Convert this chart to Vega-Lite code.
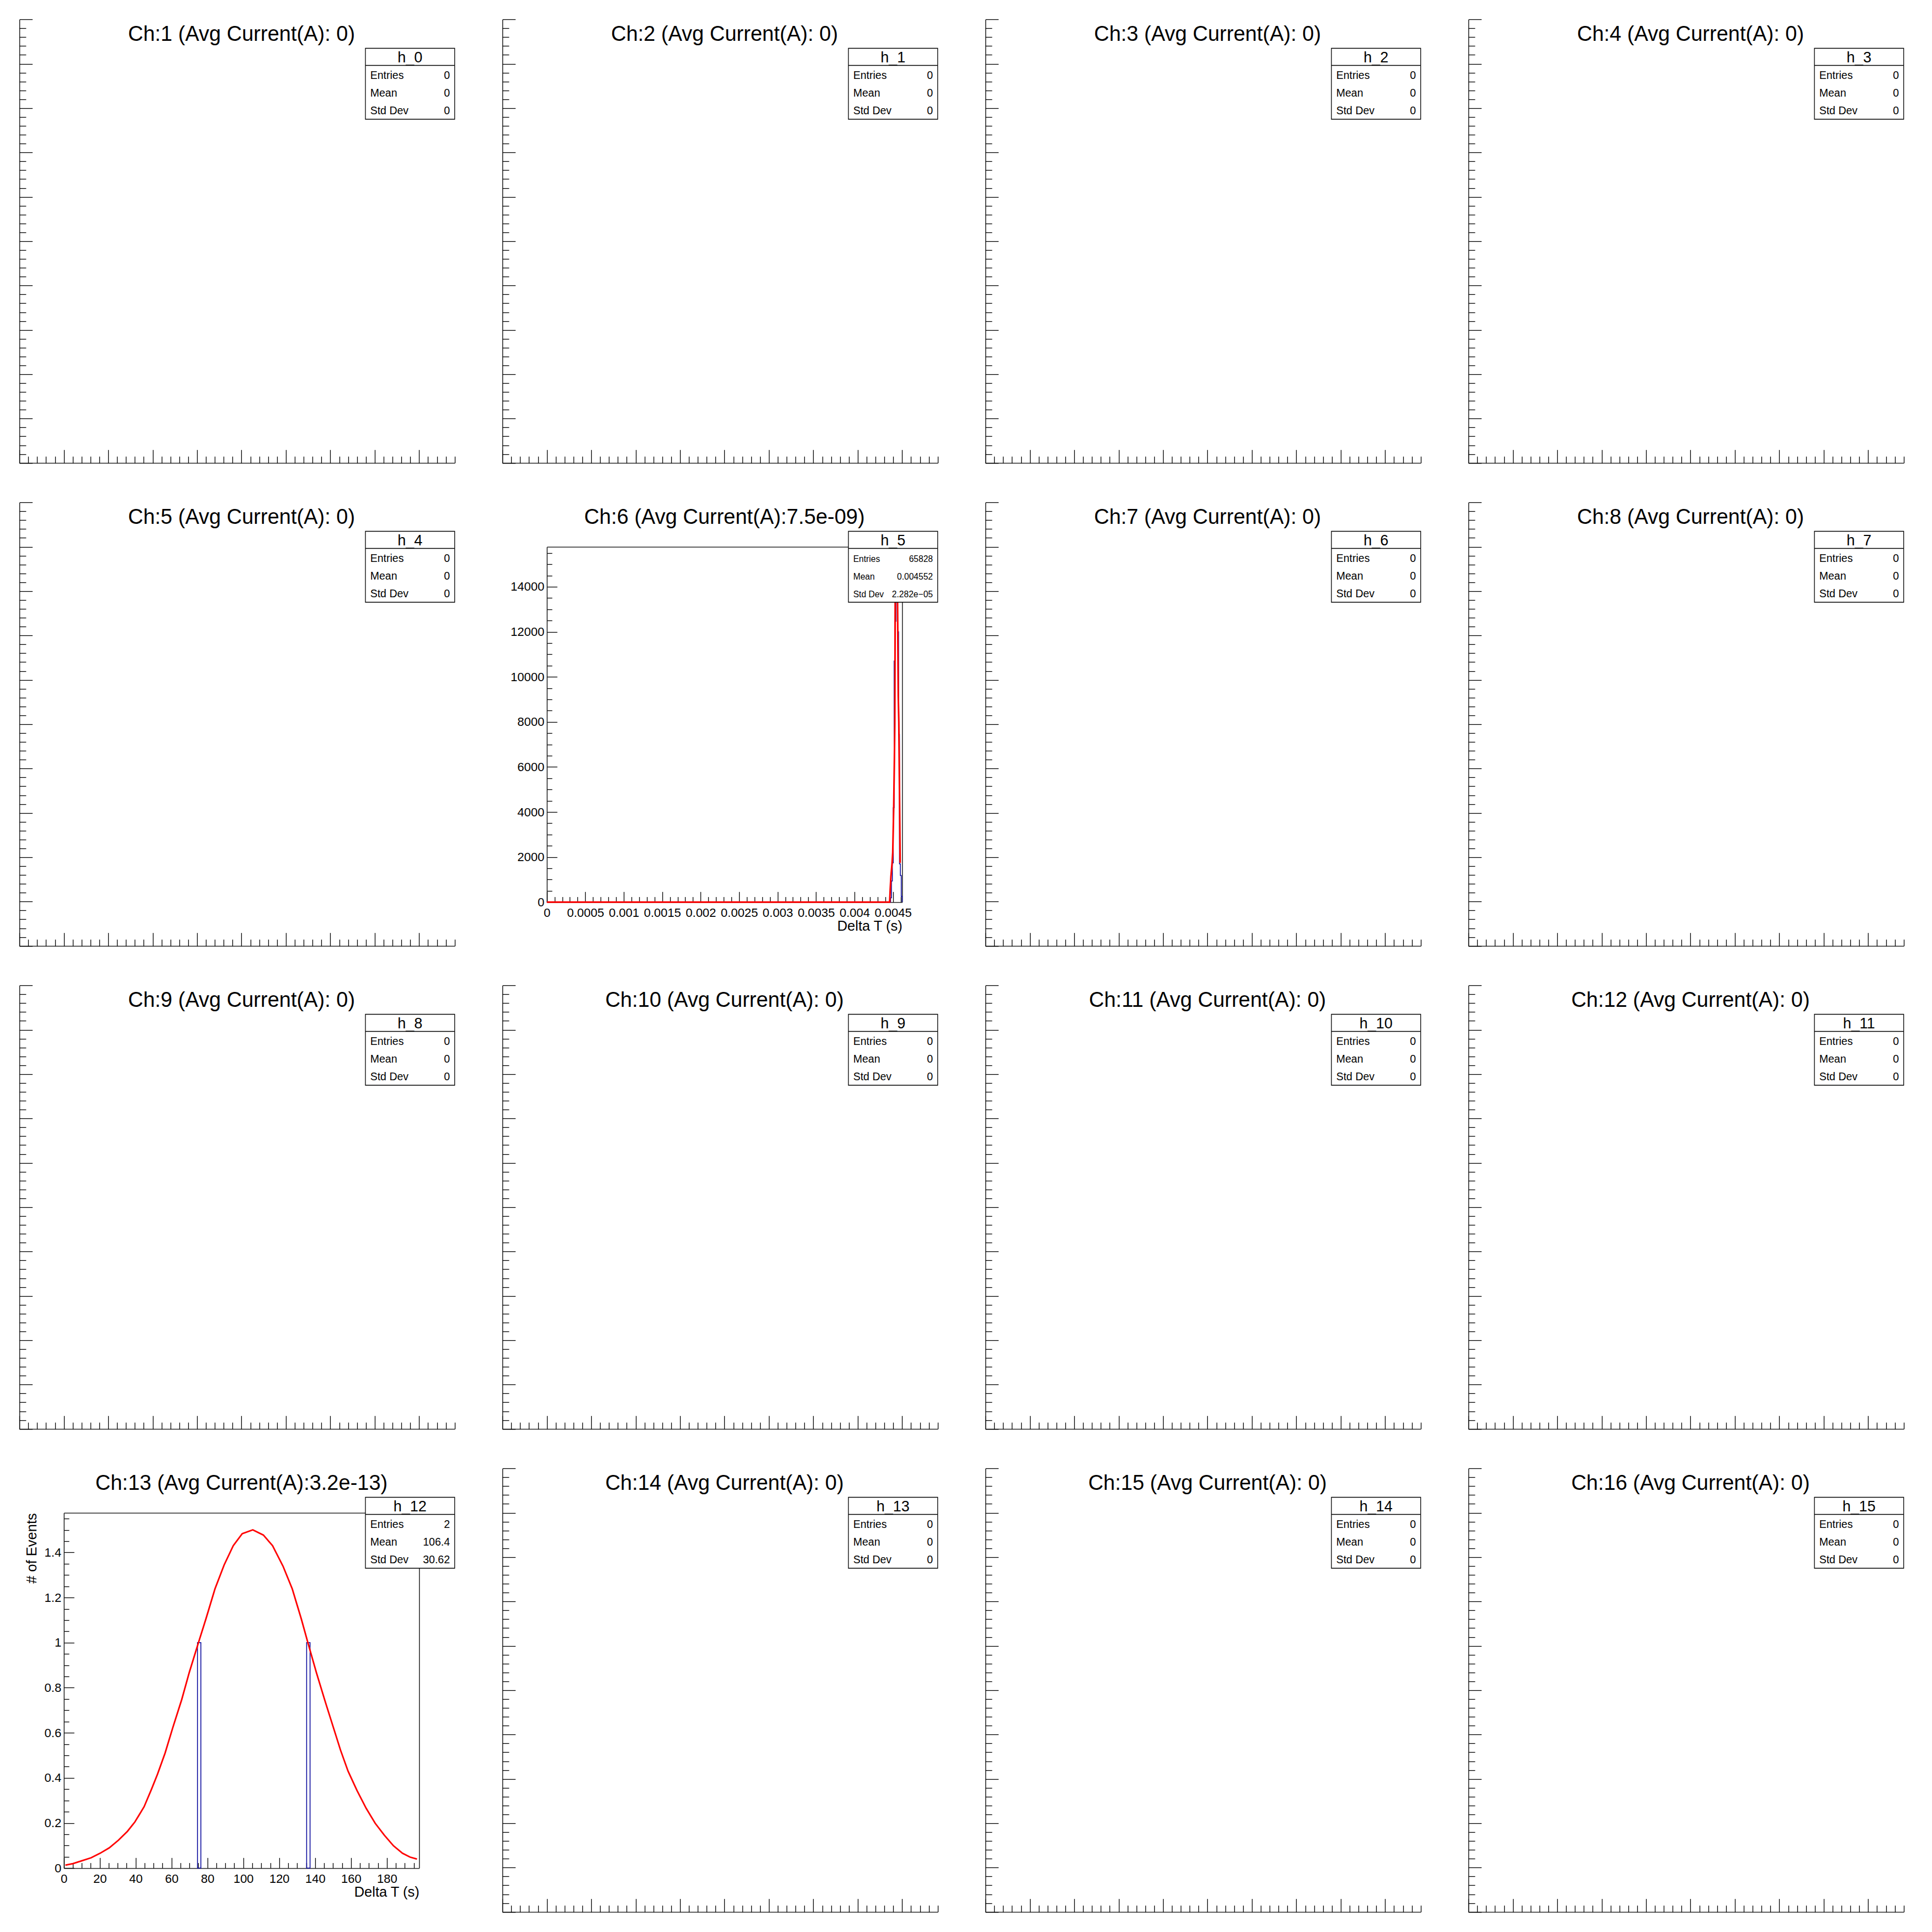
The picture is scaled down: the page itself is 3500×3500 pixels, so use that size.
{
"$schema":"https://vega.github.io/schema/vega-lite/v6.json",
"padding":0,"background":"white","columns":4,"spacing":0,"bounds":"flush",
"config":{"view":{"stroke":null},"font":"Liberation Sans","mark":{"color":"black"},
"axis":{"domainColor":"black","tickColor":"black","labelColor":"black","titleColor":"black","domainWidth":1.3,"tickWidth":1.3,"grid":false,"labelFlush":false,"labelOverlap":false,"labelBound":false,"labelFontWeight":"normal","titleFontWeight":"normal","labelFont":"Liberation Sans","titleFont":"Liberation Sans"}},
"datasets":{
"pads":[
{"panel":1,"title":"Ch:1 (Avg Current(A): 0)","hist":"h_0","entries":"0","mean":"0","std":"0"},
{"panel":2,"title":"Ch:2 (Avg Current(A): 0)","hist":"h_1","entries":"0","mean":"0","std":"0"},
{"panel":3,"title":"Ch:3 (Avg Current(A): 0)","hist":"h_2","entries":"0","mean":"0","std":"0"},
{"panel":4,"title":"Ch:4 (Avg Current(A): 0)","hist":"h_3","entries":"0","mean":"0","std":"0"},
{"panel":5,"title":"Ch:5 (Avg Current(A): 0)","hist":"h_4","entries":"0","mean":"0","std":"0"},
{"panel":6,"title":"Ch:6 (Avg Current(A):7.5e-09)","hist":"h_5","entries":"65828","mean":"0.004552","std":"2.282e\u221205"},
{"panel":7,"title":"Ch:7 (Avg Current(A): 0)","hist":"h_6","entries":"0","mean":"0","std":"0"},
{"panel":8,"title":"Ch:8 (Avg Current(A): 0)","hist":"h_7","entries":"0","mean":"0","std":"0"},
{"panel":9,"title":"Ch:9 (Avg Current(A): 0)","hist":"h_8","entries":"0","mean":"0","std":"0"},
{"panel":10,"title":"Ch:10 (Avg Current(A): 0)","hist":"h_9","entries":"0","mean":"0","std":"0"},
{"panel":11,"title":"Ch:11 (Avg Current(A): 0)","hist":"h_10","entries":"0","mean":"0","std":"0"},
{"panel":12,"title":"Ch:12 (Avg Current(A): 0)","hist":"h_11","entries":"0","mean":"0","std":"0"},
{"panel":13,"title":"Ch:13 (Avg Current(A):3.2e-13)","hist":"h_12","entries":"2","mean":"106.4","std":"30.62"},
{"panel":14,"title":"Ch:14 (Avg Current(A): 0)","hist":"h_13","entries":"0","mean":"0","std":"0"},
{"panel":15,"title":"Ch:15 (Avg Current(A): 0)","hist":"h_14","entries":"0","mean":"0","std":"0"},
{"panel":16,"title":"Ch:16 (Avg Current(A): 0)","hist":"h_15","entries":"0","mean":"0","std":"0"}
],
"hist":[
{"panel":6,"x":0,"count":0},
{"panel":6,"x":0.0044698,"count":190},
{"panel":6,"x":0.0044813,"count":940},
{"panel":6,"x":0.0044929,"count":1740},
{"panel":6,"x":0.0045044,"count":4190},
{"panel":6,"x":0.004516,"count":10700},
{"panel":6,"x":0.0045275,"count":12470},
{"panel":6,"x":0.0045391,"count":14900},
{"panel":6,"x":0.0045507,"count":15000},
{"panel":6,"x":0.0045622,"count":12000},
{"panel":6,"x":0.0045738,"count":7450},
{"panel":6,"x":0.0045853,"count":1700},
{"panel":6,"x":0.0045969,"count":1183},
{"panel":6,"x":0.0046084,"count":252},
{"panel":6,"x":0.00462,"count":0}
],
"bins":[
{"panel":13,"x0":74.45,"x1":76.35,"count":1},
{"panel":13,"x0":135.3,"x1":137.2,"count":1}
],
"fit":[
{"panel":6,"x":0,"y":0},{"panel":6,"x":0.0044578,"y":0},{"panel":6,"x":0.004465,"y":570},{"panel":6,"x":0.0044743,"y":1140},{"panel":6,"x":0.0044887,"y":1710},{"panel":6,"x":0.004498,"y":2200},{"panel":6,"x":0.0045102,"y":4170},{"panel":6,"x":0.0045195,"y":6370},{"panel":6,"x":0.0045246,"y":7920},{"panel":6,"x":0.0045296,"y":13290},{"panel":6,"x":0.0045353,"y":14800},{"panel":6,"x":0.0045425,"y":15600},{"panel":6,"x":0.0045497,"y":15600},{"panel":6,"x":0.0045554,"y":14800},{"panel":6,"x":0.0045604,"y":13290},{"panel":6,"x":0.0045698,"y":9130},{"panel":6,"x":0.004577,"y":8000},{"panel":6,"x":0.0045841,"y":5500},{"panel":6,"x":0.0045892,"y":3620},{"panel":6,"x":0.0045942,"y":1740},
{"panel":13,"x":0.84,"y":0.013},{"panel":13,"x":5.05,"y":0.02},{"panel":13,"x":10.1,"y":0.033},{"panel":13,"x":15.2,"y":0.046},{"panel":13,"x":20.2,"y":0.066},{"panel":13,"x":25.3,"y":0.09},{"panel":13,"x":30.3,"y":0.123},{"panel":13,"x":35.4,"y":0.163},{"panel":13,"x":39.6,"y":0.205},{"panel":13,"x":44.7,"y":0.272},{"panel":13,"x":48.9,"y":0.351},{"panel":13,"x":52.2,"y":0.417},{"panel":13,"x":56.4,"y":0.51},{"panel":13,"x":60.7,"y":0.623},{"panel":13,"x":65.7,"y":0.748},{"panel":13,"x":69.9,"y":0.868},{"panel":13,"x":75.0,"y":1.0},{"panel":13,"x":79.2,"y":1.106},{"panel":13,"x":84.2,"y":1.238},{"panel":13,"x":89.3,"y":1.344},{"panel":13,"x":94.4,"y":1.43},{"panel":13,"x":99.4,"y":1.483},{"panel":13,"x":105.3,"y":1.5},{"panel":13,"x":111.2,"y":1.477},{"panel":13,"x":116.3,"y":1.43},{"panel":13,"x":122.2,"y":1.338},{"panel":13,"x":127.3,"y":1.238},{"panel":13,"x":132.3,"y":1.106},{"panel":13,"x":136.0,"y":1.0},{"panel":13,"x":140.7,"y":0.868},{"panel":13,"x":145.8,"y":0.735},{"panel":13,"x":150.0,"y":0.629},{"panel":13,"x":154.2,"y":0.523},{"panel":13,"x":158.4,"y":0.43},{"panel":13,"x":163.4,"y":0.344},{"panel":13,"x":168.5,"y":0.265},{"panel":13,"x":173.5,"y":0.199},{"panel":13,"x":178.6,"y":0.146},{"panel":13,"x":183.7,"y":0.099},{"panel":13,"x":188.7,"y":0.066},{"panel":13,"x":192.9,"y":0.049},{"panel":13,"x":196.8,"y":0.04}
]
},
"concat":[
{"width":875,"height":875,"resolve":{"scale":{"x":"independent","y":"independent"}},"layer":[
{"data":{"name":"hist"},"transform":[{"filter":"datum.panel==1"}],"mark":{"type":"line","interpolate":"step-after","color":"#000099","strokeWidth":1.5},"encoding":{"x":{"field":"x","type":"quantitative","scale":{"domain":[0,0.98],"range":[35.2,823.7],"nice":false,"zero":false},"axis":{"orient":"bottom","offset":-36.3,"tickCount":49,"labels":false,"title":null,"tickSize":{"condition":{"test":"abs(datum.value*10-round(datum.value*10))<1e-6","value":-24},"value":-12}}},"y":{"field":"count","type":"quantitative","scale":{"domain":[0,1],"range":[838.7,35.2],"nice":false,"zero":false},"axis":{"orient":"left","offset":-35.2,"tickCount":50,"labels":false,"title":null,"tickSize":{"condition":{"test":"abs(datum.value*10-round(datum.value*10))<1e-6","value":-23.4},"value":-11.7}}}}},
{"data":{"name":"pads"},"transform":[{"filter":"datum.panel==1"}],"layer":[{"mark":{"type":"text","fontSize":38,"align":"center","baseline":"alphabetic"},"encoding":{"x":{"datum":0.5,"scale":{"domain":[0,1]},"axis":null},"y":{"datum":0.91486,"scale":{"domain":[0,1]},"axis":null},"text":{"field":"title"}}},{"mark":{"type":"rect","fill":"white","stroke":"black","strokeWidth":1.3},"encoding":{"x":{"datum":0.75657,"axis":null},"x2":{"datum":0.94137},"y":{"datum":0.75314,"axis":null},"y2":{"datum":0.9}}},{"mark":{"type":"rule","color":"black","strokeWidth":1.3},"encoding":{"x":{"datum":0.75657,"axis":null},"x2":{"datum":0.94137},"y":{"datum":0.86457,"axis":null}}},{"mark":{"type":"text","fontSize":27,"align":"center","baseline":"alphabetic"},"encoding":{"x":{"datum":0.84897,"axis":null},"y":{"datum":0.87086,"axis":null},"text":{"field":"hist"}}},{"mark":{"type":"text","fontSize":19.5,"align":"left","baseline":"alphabetic","lineHeight":32.3},"encoding":{"x":{"datum":0.76651,"axis":null},"y":{"datum":0.83691,"axis":null},"text":{"value":["Entries","Mean","Std Dev"]}}},{"mark":{"type":"text","fontSize":19.5,"align":"right","baseline":"alphabetic"},"encoding":{"x":{"datum":0.93143,"axis":null},"y":{"datum":0.83691,"axis":null},"text":{"field":"entries"}}},{"mark":{"type":"text","fontSize":19.5,"align":"right","baseline":"alphabetic"},"encoding":{"x":{"datum":0.93143,"axis":null},"y":{"datum":0.8,"axis":null},"text":{"field":"mean"}}},{"mark":{"type":"text","fontSize":19.5,"align":"right","baseline":"alphabetic"},"encoding":{"x":{"datum":0.93143,"axis":null},"y":{"datum":0.76309,"axis":null},"text":{"field":"std"}}}]}
]},
{"width":875,"height":875,"resolve":{"scale":{"x":"independent","y":"independent"}},"layer":[
{"data":{"name":"hist"},"transform":[{"filter":"datum.panel==2"}],"mark":{"type":"line","interpolate":"step-after","color":"#000099","strokeWidth":1.5},"encoding":{"x":{"field":"x","type":"quantitative","scale":{"domain":[0,0.98],"range":[35.2,823.7],"nice":false,"zero":false},"axis":{"orient":"bottom","offset":-36.3,"tickCount":49,"labels":false,"title":null,"tickSize":{"condition":{"test":"abs(datum.value*10-round(datum.value*10))<1e-6","value":-24},"value":-12}}},"y":{"field":"count","type":"quantitative","scale":{"domain":[0,1],"range":[838.7,35.2],"nice":false,"zero":false},"axis":{"orient":"left","offset":-35.2,"tickCount":50,"labels":false,"title":null,"tickSize":{"condition":{"test":"abs(datum.value*10-round(datum.value*10))<1e-6","value":-23.4},"value":-11.7}}}}},
{"data":{"name":"pads"},"transform":[{"filter":"datum.panel==2"}],"layer":[{"mark":{"type":"text","fontSize":38,"align":"center","baseline":"alphabetic"},"encoding":{"x":{"datum":0.5,"scale":{"domain":[0,1]},"axis":null},"y":{"datum":0.91486,"scale":{"domain":[0,1]},"axis":null},"text":{"field":"title"}}},{"mark":{"type":"rect","fill":"white","stroke":"black","strokeWidth":1.3},"encoding":{"x":{"datum":0.75657,"axis":null},"x2":{"datum":0.94137},"y":{"datum":0.75314,"axis":null},"y2":{"datum":0.9}}},{"mark":{"type":"rule","color":"black","strokeWidth":1.3},"encoding":{"x":{"datum":0.75657,"axis":null},"x2":{"datum":0.94137},"y":{"datum":0.86457,"axis":null}}},{"mark":{"type":"text","fontSize":27,"align":"center","baseline":"alphabetic"},"encoding":{"x":{"datum":0.84897,"axis":null},"y":{"datum":0.87086,"axis":null},"text":{"field":"hist"}}},{"mark":{"type":"text","fontSize":19.5,"align":"left","baseline":"alphabetic","lineHeight":32.3},"encoding":{"x":{"datum":0.76651,"axis":null},"y":{"datum":0.83691,"axis":null},"text":{"value":["Entries","Mean","Std Dev"]}}},{"mark":{"type":"text","fontSize":19.5,"align":"right","baseline":"alphabetic"},"encoding":{"x":{"datum":0.93143,"axis":null},"y":{"datum":0.83691,"axis":null},"text":{"field":"entries"}}},{"mark":{"type":"text","fontSize":19.5,"align":"right","baseline":"alphabetic"},"encoding":{"x":{"datum":0.93143,"axis":null},"y":{"datum":0.8,"axis":null},"text":{"field":"mean"}}},{"mark":{"type":"text","fontSize":19.5,"align":"right","baseline":"alphabetic"},"encoding":{"x":{"datum":0.93143,"axis":null},"y":{"datum":0.76309,"axis":null},"text":{"field":"std"}}}]}
]},
{"width":875,"height":875,"resolve":{"scale":{"x":"independent","y":"independent"}},"layer":[
{"data":{"name":"hist"},"transform":[{"filter":"datum.panel==3"}],"mark":{"type":"line","interpolate":"step-after","color":"#000099","strokeWidth":1.5},"encoding":{"x":{"field":"x","type":"quantitative","scale":{"domain":[0,0.98],"range":[35.2,823.7],"nice":false,"zero":false},"axis":{"orient":"bottom","offset":-36.3,"tickCount":49,"labels":false,"title":null,"tickSize":{"condition":{"test":"abs(datum.value*10-round(datum.value*10))<1e-6","value":-24},"value":-12}}},"y":{"field":"count","type":"quantitative","scale":{"domain":[0,1],"range":[838.7,35.2],"nice":false,"zero":false},"axis":{"orient":"left","offset":-35.2,"tickCount":50,"labels":false,"title":null,"tickSize":{"condition":{"test":"abs(datum.value*10-round(datum.value*10))<1e-6","value":-23.4},"value":-11.7}}}}},
{"data":{"name":"pads"},"transform":[{"filter":"datum.panel==3"}],"layer":[{"mark":{"type":"text","fontSize":38,"align":"center","baseline":"alphabetic"},"encoding":{"x":{"datum":0.5,"scale":{"domain":[0,1]},"axis":null},"y":{"datum":0.91486,"scale":{"domain":[0,1]},"axis":null},"text":{"field":"title"}}},{"mark":{"type":"rect","fill":"white","stroke":"black","strokeWidth":1.3},"encoding":{"x":{"datum":0.75657,"axis":null},"x2":{"datum":0.94137},"y":{"datum":0.75314,"axis":null},"y2":{"datum":0.9}}},{"mark":{"type":"rule","color":"black","strokeWidth":1.3},"encoding":{"x":{"datum":0.75657,"axis":null},"x2":{"datum":0.94137},"y":{"datum":0.86457,"axis":null}}},{"mark":{"type":"text","fontSize":27,"align":"center","baseline":"alphabetic"},"encoding":{"x":{"datum":0.84897,"axis":null},"y":{"datum":0.87086,"axis":null},"text":{"field":"hist"}}},{"mark":{"type":"text","fontSize":19.5,"align":"left","baseline":"alphabetic","lineHeight":32.3},"encoding":{"x":{"datum":0.76651,"axis":null},"y":{"datum":0.83691,"axis":null},"text":{"value":["Entries","Mean","Std Dev"]}}},{"mark":{"type":"text","fontSize":19.5,"align":"right","baseline":"alphabetic"},"encoding":{"x":{"datum":0.93143,"axis":null},"y":{"datum":0.83691,"axis":null},"text":{"field":"entries"}}},{"mark":{"type":"text","fontSize":19.5,"align":"right","baseline":"alphabetic"},"encoding":{"x":{"datum":0.93143,"axis":null},"y":{"datum":0.8,"axis":null},"text":{"field":"mean"}}},{"mark":{"type":"text","fontSize":19.5,"align":"right","baseline":"alphabetic"},"encoding":{"x":{"datum":0.93143,"axis":null},"y":{"datum":0.76309,"axis":null},"text":{"field":"std"}}}]}
]},
{"width":875,"height":875,"resolve":{"scale":{"x":"independent","y":"independent"}},"layer":[
{"data":{"name":"hist"},"transform":[{"filter":"datum.panel==4"}],"mark":{"type":"line","interpolate":"step-after","color":"#000099","strokeWidth":1.5},"encoding":{"x":{"field":"x","type":"quantitative","scale":{"domain":[0,0.98],"range":[35.2,823.7],"nice":false,"zero":false},"axis":{"orient":"bottom","offset":-36.3,"tickCount":49,"labels":false,"title":null,"tickSize":{"condition":{"test":"abs(datum.value*10-round(datum.value*10))<1e-6","value":-24},"value":-12}}},"y":{"field":"count","type":"quantitative","scale":{"domain":[0,1],"range":[838.7,35.2],"nice":false,"zero":false},"axis":{"orient":"left","offset":-35.2,"tickCount":50,"labels":false,"title":null,"tickSize":{"condition":{"test":"abs(datum.value*10-round(datum.value*10))<1e-6","value":-23.4},"value":-11.7}}}}},
{"data":{"name":"pads"},"transform":[{"filter":"datum.panel==4"}],"layer":[{"mark":{"type":"text","fontSize":38,"align":"center","baseline":"alphabetic"},"encoding":{"x":{"datum":0.5,"scale":{"domain":[0,1]},"axis":null},"y":{"datum":0.91486,"scale":{"domain":[0,1]},"axis":null},"text":{"field":"title"}}},{"mark":{"type":"rect","fill":"white","stroke":"black","strokeWidth":1.3},"encoding":{"x":{"datum":0.75657,"axis":null},"x2":{"datum":0.94137},"y":{"datum":0.75314,"axis":null},"y2":{"datum":0.9}}},{"mark":{"type":"rule","color":"black","strokeWidth":1.3},"encoding":{"x":{"datum":0.75657,"axis":null},"x2":{"datum":0.94137},"y":{"datum":0.86457,"axis":null}}},{"mark":{"type":"text","fontSize":27,"align":"center","baseline":"alphabetic"},"encoding":{"x":{"datum":0.84897,"axis":null},"y":{"datum":0.87086,"axis":null},"text":{"field":"hist"}}},{"mark":{"type":"text","fontSize":19.5,"align":"left","baseline":"alphabetic","lineHeight":32.3},"encoding":{"x":{"datum":0.76651,"axis":null},"y":{"datum":0.83691,"axis":null},"text":{"value":["Entries","Mean","Std Dev"]}}},{"mark":{"type":"text","fontSize":19.5,"align":"right","baseline":"alphabetic"},"encoding":{"x":{"datum":0.93143,"axis":null},"y":{"datum":0.83691,"axis":null},"text":{"field":"entries"}}},{"mark":{"type":"text","fontSize":19.5,"align":"right","baseline":"alphabetic"},"encoding":{"x":{"datum":0.93143,"axis":null},"y":{"datum":0.8,"axis":null},"text":{"field":"mean"}}},{"mark":{"type":"text","fontSize":19.5,"align":"right","baseline":"alphabetic"},"encoding":{"x":{"datum":0.93143,"axis":null},"y":{"datum":0.76309,"axis":null},"text":{"field":"std"}}}]}
]},
{"width":875,"height":875,"resolve":{"scale":{"x":"independent","y":"independent"}},"layer":[
{"data":{"name":"hist"},"transform":[{"filter":"datum.panel==5"}],"mark":{"type":"line","interpolate":"step-after","color":"#000099","strokeWidth":1.5},"encoding":{"x":{"field":"x","type":"quantitative","scale":{"domain":[0,0.98],"range":[35.2,823.7],"nice":false,"zero":false},"axis":{"orient":"bottom","offset":-36.3,"tickCount":49,"labels":false,"title":null,"tickSize":{"condition":{"test":"abs(datum.value*10-round(datum.value*10))<1e-6","value":-24},"value":-12}}},"y":{"field":"count","type":"quantitative","scale":{"domain":[0,1],"range":[838.7,35.2],"nice":false,"zero":false},"axis":{"orient":"left","offset":-35.2,"tickCount":50,"labels":false,"title":null,"tickSize":{"condition":{"test":"abs(datum.value*10-round(datum.value*10))<1e-6","value":-23.4},"value":-11.7}}}}},
{"data":{"name":"pads"},"transform":[{"filter":"datum.panel==5"}],"layer":[{"mark":{"type":"text","fontSize":38,"align":"center","baseline":"alphabetic"},"encoding":{"x":{"datum":0.5,"scale":{"domain":[0,1]},"axis":null},"y":{"datum":0.91486,"scale":{"domain":[0,1]},"axis":null},"text":{"field":"title"}}},{"mark":{"type":"rect","fill":"white","stroke":"black","strokeWidth":1.3},"encoding":{"x":{"datum":0.75657,"axis":null},"x2":{"datum":0.94137},"y":{"datum":0.75314,"axis":null},"y2":{"datum":0.9}}},{"mark":{"type":"rule","color":"black","strokeWidth":1.3},"encoding":{"x":{"datum":0.75657,"axis":null},"x2":{"datum":0.94137},"y":{"datum":0.86457,"axis":null}}},{"mark":{"type":"text","fontSize":27,"align":"center","baseline":"alphabetic"},"encoding":{"x":{"datum":0.84897,"axis":null},"y":{"datum":0.87086,"axis":null},"text":{"field":"hist"}}},{"mark":{"type":"text","fontSize":19.5,"align":"left","baseline":"alphabetic","lineHeight":32.3},"encoding":{"x":{"datum":0.76651,"axis":null},"y":{"datum":0.83691,"axis":null},"text":{"value":["Entries","Mean","Std Dev"]}}},{"mark":{"type":"text","fontSize":19.5,"align":"right","baseline":"alphabetic"},"encoding":{"x":{"datum":0.93143,"axis":null},"y":{"datum":0.83691,"axis":null},"text":{"field":"entries"}}},{"mark":{"type":"text","fontSize":19.5,"align":"right","baseline":"alphabetic"},"encoding":{"x":{"datum":0.93143,"axis":null},"y":{"datum":0.8,"axis":null},"text":{"field":"mean"}}},{"mark":{"type":"text","fontSize":19.5,"align":"right","baseline":"alphabetic"},"encoding":{"x":{"datum":0.93143,"axis":null},"y":{"datum":0.76309,"axis":null},"text":{"field":"std"}}}]}
]},
{"width":875,"height":875,"resolve":{"scale":{"x":"independent","y":"independent"}},"layer":[
{"resolve":{"axis":{"x":"independent","y":"independent"}},"layer":[
{"data":{"name":"hist"},"transform":[{"filter":"datum.panel==6"}],"mark":{"type":"line","interpolate":"step-after","color":"#000099","strokeWidth":1.5},"encoding":{"x":{"field":"x","type":"quantitative","scale":{"domain":[0,0.00462],"range":[115.7,759.3],"nice":false,"zero":false},"axis":{"orient":"bottom","offset":-115.7,"tickCount":46,"tickSize":{"condition":{"test":"abs(datum.value*2000-round(datum.value*2000))<1e-6","value":-19},"value":-9.7},"labelExpr":"abs(datum.value*2000-round(datum.value*2000))<1e-6 ? ''+round(datum.value*20000)/20000 : ''","labelFontSize":22,"labelBaseline":"top","labelAlign":"center","labelPadding":28,"title":"Delta T (s)","titleFontSize":25.5,"titleAlign":"right","titleBaseline":"alphabetic","titleX":759.3,"titleY":51}},"y":{"field":"count","type":"quantitative","scale":{"domain":[0,15770],"range":[759.3,115.7],"nice":false,"zero":false},"axis":{"orient":"left","offset":-115.7,"tickCount":31,"tickSize":{"condition":{"test":"datum.value%2000==0","value":-18.5},"value":-9.3},"labelExpr":"datum.value%2000==0 ? ''+datum.value : ''","labelFontSize":22,"labelAlign":"right","labelBaseline":"middle","labelPadding":23.5,"title":null}}}},
{"data":{"name":"fit"},"transform":[{"filter":"datum.panel==6"}],"mark":{"type":"line","color":"#ff0000","strokeWidth":3},"encoding":{"x":{"field":"x","type":"quantitative","axis":{"orient":"top","offset":-115.7,"ticks":false,"labels":false,"title":null}},"y":{"field":"y","type":"quantitative","axis":{"orient":"right","offset":-115.7,"ticks":false,"labels":false,"title":null}}}}
]},
{"data":{"name":"pads"},"transform":[{"filter":"datum.panel==6"}],"layer":[{"mark":{"type":"text","fontSize":38,"align":"center","baseline":"alphabetic"},"encoding":{"x":{"datum":0.5,"scale":{"domain":[0,1]},"axis":null},"y":{"datum":0.91486,"scale":{"domain":[0,1]},"axis":null},"text":{"field":"title"}}},{"mark":{"type":"rect","fill":"white","stroke":"black","strokeWidth":1.3},"encoding":{"x":{"datum":0.75657,"axis":null},"x2":{"datum":0.94137},"y":{"datum":0.75314,"axis":null},"y2":{"datum":0.9}}},{"mark":{"type":"rule","color":"black","strokeWidth":1.3},"encoding":{"x":{"datum":0.75657,"axis":null},"x2":{"datum":0.94137},"y":{"datum":0.86457,"axis":null}}},{"mark":{"type":"text","fontSize":27,"align":"center","baseline":"alphabetic"},"encoding":{"x":{"datum":0.84897,"axis":null},"y":{"datum":0.87086,"axis":null},"text":{"field":"hist"}}},{"mark":{"type":"text","fontSize":15.6,"align":"left","baseline":"alphabetic","lineHeight":32.3},"encoding":{"x":{"datum":0.76651,"axis":null},"y":{"datum":0.83691,"axis":null},"text":{"value":["Entries","Mean","Std Dev"]}}},{"mark":{"type":"text","fontSize":15.6,"align":"right","baseline":"alphabetic"},"encoding":{"x":{"datum":0.93143,"axis":null},"y":{"datum":0.83691,"axis":null},"text":{"field":"entries"}}},{"mark":{"type":"text","fontSize":15.6,"align":"right","baseline":"alphabetic"},"encoding":{"x":{"datum":0.93143,"axis":null},"y":{"datum":0.8,"axis":null},"text":{"field":"mean"}}},{"mark":{"type":"text","fontSize":15.6,"align":"right","baseline":"alphabetic"},"encoding":{"x":{"datum":0.93143,"axis":null},"y":{"datum":0.76309,"axis":null},"text":{"field":"std"}}}]}
]},
{"width":875,"height":875,"resolve":{"scale":{"x":"independent","y":"independent"}},"layer":[
{"data":{"name":"hist"},"transform":[{"filter":"datum.panel==7"}],"mark":{"type":"line","interpolate":"step-after","color":"#000099","strokeWidth":1.5},"encoding":{"x":{"field":"x","type":"quantitative","scale":{"domain":[0,0.98],"range":[35.2,823.7],"nice":false,"zero":false},"axis":{"orient":"bottom","offset":-36.3,"tickCount":49,"labels":false,"title":null,"tickSize":{"condition":{"test":"abs(datum.value*10-round(datum.value*10))<1e-6","value":-24},"value":-12}}},"y":{"field":"count","type":"quantitative","scale":{"domain":[0,1],"range":[838.7,35.2],"nice":false,"zero":false},"axis":{"orient":"left","offset":-35.2,"tickCount":50,"labels":false,"title":null,"tickSize":{"condition":{"test":"abs(datum.value*10-round(datum.value*10))<1e-6","value":-23.4},"value":-11.7}}}}},
{"data":{"name":"pads"},"transform":[{"filter":"datum.panel==7"}],"layer":[{"mark":{"type":"text","fontSize":38,"align":"center","baseline":"alphabetic"},"encoding":{"x":{"datum":0.5,"scale":{"domain":[0,1]},"axis":null},"y":{"datum":0.91486,"scale":{"domain":[0,1]},"axis":null},"text":{"field":"title"}}},{"mark":{"type":"rect","fill":"white","stroke":"black","strokeWidth":1.3},"encoding":{"x":{"datum":0.75657,"axis":null},"x2":{"datum":0.94137},"y":{"datum":0.75314,"axis":null},"y2":{"datum":0.9}}},{"mark":{"type":"rule","color":"black","strokeWidth":1.3},"encoding":{"x":{"datum":0.75657,"axis":null},"x2":{"datum":0.94137},"y":{"datum":0.86457,"axis":null}}},{"mark":{"type":"text","fontSize":27,"align":"center","baseline":"alphabetic"},"encoding":{"x":{"datum":0.84897,"axis":null},"y":{"datum":0.87086,"axis":null},"text":{"field":"hist"}}},{"mark":{"type":"text","fontSize":19.5,"align":"left","baseline":"alphabetic","lineHeight":32.3},"encoding":{"x":{"datum":0.76651,"axis":null},"y":{"datum":0.83691,"axis":null},"text":{"value":["Entries","Mean","Std Dev"]}}},{"mark":{"type":"text","fontSize":19.5,"align":"right","baseline":"alphabetic"},"encoding":{"x":{"datum":0.93143,"axis":null},"y":{"datum":0.83691,"axis":null},"text":{"field":"entries"}}},{"mark":{"type":"text","fontSize":19.5,"align":"right","baseline":"alphabetic"},"encoding":{"x":{"datum":0.93143,"axis":null},"y":{"datum":0.8,"axis":null},"text":{"field":"mean"}}},{"mark":{"type":"text","fontSize":19.5,"align":"right","baseline":"alphabetic"},"encoding":{"x":{"datum":0.93143,"axis":null},"y":{"datum":0.76309,"axis":null},"text":{"field":"std"}}}]}
]},
{"width":875,"height":875,"resolve":{"scale":{"x":"independent","y":"independent"}},"layer":[
{"data":{"name":"hist"},"transform":[{"filter":"datum.panel==8"}],"mark":{"type":"line","interpolate":"step-after","color":"#000099","strokeWidth":1.5},"encoding":{"x":{"field":"x","type":"quantitative","scale":{"domain":[0,0.98],"range":[35.2,823.7],"nice":false,"zero":false},"axis":{"orient":"bottom","offset":-36.3,"tickCount":49,"labels":false,"title":null,"tickSize":{"condition":{"test":"abs(datum.value*10-round(datum.value*10))<1e-6","value":-24},"value":-12}}},"y":{"field":"count","type":"quantitative","scale":{"domain":[0,1],"range":[838.7,35.2],"nice":false,"zero":false},"axis":{"orient":"left","offset":-35.2,"tickCount":50,"labels":false,"title":null,"tickSize":{"condition":{"test":"abs(datum.value*10-round(datum.value*10))<1e-6","value":-23.4},"value":-11.7}}}}},
{"data":{"name":"pads"},"transform":[{"filter":"datum.panel==8"}],"layer":[{"mark":{"type":"text","fontSize":38,"align":"center","baseline":"alphabetic"},"encoding":{"x":{"datum":0.5,"scale":{"domain":[0,1]},"axis":null},"y":{"datum":0.91486,"scale":{"domain":[0,1]},"axis":null},"text":{"field":"title"}}},{"mark":{"type":"rect","fill":"white","stroke":"black","strokeWidth":1.3},"encoding":{"x":{"datum":0.75657,"axis":null},"x2":{"datum":0.94137},"y":{"datum":0.75314,"axis":null},"y2":{"datum":0.9}}},{"mark":{"type":"rule","color":"black","strokeWidth":1.3},"encoding":{"x":{"datum":0.75657,"axis":null},"x2":{"datum":0.94137},"y":{"datum":0.86457,"axis":null}}},{"mark":{"type":"text","fontSize":27,"align":"center","baseline":"alphabetic"},"encoding":{"x":{"datum":0.84897,"axis":null},"y":{"datum":0.87086,"axis":null},"text":{"field":"hist"}}},{"mark":{"type":"text","fontSize":19.5,"align":"left","baseline":"alphabetic","lineHeight":32.3},"encoding":{"x":{"datum":0.76651,"axis":null},"y":{"datum":0.83691,"axis":null},"text":{"value":["Entries","Mean","Std Dev"]}}},{"mark":{"type":"text","fontSize":19.5,"align":"right","baseline":"alphabetic"},"encoding":{"x":{"datum":0.93143,"axis":null},"y":{"datum":0.83691,"axis":null},"text":{"field":"entries"}}},{"mark":{"type":"text","fontSize":19.5,"align":"right","baseline":"alphabetic"},"encoding":{"x":{"datum":0.93143,"axis":null},"y":{"datum":0.8,"axis":null},"text":{"field":"mean"}}},{"mark":{"type":"text","fontSize":19.5,"align":"right","baseline":"alphabetic"},"encoding":{"x":{"datum":0.93143,"axis":null},"y":{"datum":0.76309,"axis":null},"text":{"field":"std"}}}]}
]},
{"width":875,"height":875,"resolve":{"scale":{"x":"independent","y":"independent"}},"layer":[
{"data":{"name":"hist"},"transform":[{"filter":"datum.panel==9"}],"mark":{"type":"line","interpolate":"step-after","color":"#000099","strokeWidth":1.5},"encoding":{"x":{"field":"x","type":"quantitative","scale":{"domain":[0,0.98],"range":[35.2,823.7],"nice":false,"zero":false},"axis":{"orient":"bottom","offset":-36.3,"tickCount":49,"labels":false,"title":null,"tickSize":{"condition":{"test":"abs(datum.value*10-round(datum.value*10))<1e-6","value":-24},"value":-12}}},"y":{"field":"count","type":"quantitative","scale":{"domain":[0,1],"range":[838.7,35.2],"nice":false,"zero":false},"axis":{"orient":"left","offset":-35.2,"tickCount":50,"labels":false,"title":null,"tickSize":{"condition":{"test":"abs(datum.value*10-round(datum.value*10))<1e-6","value":-23.4},"value":-11.7}}}}},
{"data":{"name":"pads"},"transform":[{"filter":"datum.panel==9"}],"layer":[{"mark":{"type":"text","fontSize":38,"align":"center","baseline":"alphabetic"},"encoding":{"x":{"datum":0.5,"scale":{"domain":[0,1]},"axis":null},"y":{"datum":0.91486,"scale":{"domain":[0,1]},"axis":null},"text":{"field":"title"}}},{"mark":{"type":"rect","fill":"white","stroke":"black","strokeWidth":1.3},"encoding":{"x":{"datum":0.75657,"axis":null},"x2":{"datum":0.94137},"y":{"datum":0.75314,"axis":null},"y2":{"datum":0.9}}},{"mark":{"type":"rule","color":"black","strokeWidth":1.3},"encoding":{"x":{"datum":0.75657,"axis":null},"x2":{"datum":0.94137},"y":{"datum":0.86457,"axis":null}}},{"mark":{"type":"text","fontSize":27,"align":"center","baseline":"alphabetic"},"encoding":{"x":{"datum":0.84897,"axis":null},"y":{"datum":0.87086,"axis":null},"text":{"field":"hist"}}},{"mark":{"type":"text","fontSize":19.5,"align":"left","baseline":"alphabetic","lineHeight":32.3},"encoding":{"x":{"datum":0.76651,"axis":null},"y":{"datum":0.83691,"axis":null},"text":{"value":["Entries","Mean","Std Dev"]}}},{"mark":{"type":"text","fontSize":19.5,"align":"right","baseline":"alphabetic"},"encoding":{"x":{"datum":0.93143,"axis":null},"y":{"datum":0.83691,"axis":null},"text":{"field":"entries"}}},{"mark":{"type":"text","fontSize":19.5,"align":"right","baseline":"alphabetic"},"encoding":{"x":{"datum":0.93143,"axis":null},"y":{"datum":0.8,"axis":null},"text":{"field":"mean"}}},{"mark":{"type":"text","fontSize":19.5,"align":"right","baseline":"alphabetic"},"encoding":{"x":{"datum":0.93143,"axis":null},"y":{"datum":0.76309,"axis":null},"text":{"field":"std"}}}]}
]},
{"width":875,"height":875,"resolve":{"scale":{"x":"independent","y":"independent"}},"layer":[
{"data":{"name":"hist"},"transform":[{"filter":"datum.panel==10"}],"mark":{"type":"line","interpolate":"step-after","color":"#000099","strokeWidth":1.5},"encoding":{"x":{"field":"x","type":"quantitative","scale":{"domain":[0,0.98],"range":[35.2,823.7],"nice":false,"zero":false},"axis":{"orient":"bottom","offset":-36.3,"tickCount":49,"labels":false,"title":null,"tickSize":{"condition":{"test":"abs(datum.value*10-round(datum.value*10))<1e-6","value":-24},"value":-12}}},"y":{"field":"count","type":"quantitative","scale":{"domain":[0,1],"range":[838.7,35.2],"nice":false,"zero":false},"axis":{"orient":"left","offset":-35.2,"tickCount":50,"labels":false,"title":null,"tickSize":{"condition":{"test":"abs(datum.value*10-round(datum.value*10))<1e-6","value":-23.4},"value":-11.7}}}}},
{"data":{"name":"pads"},"transform":[{"filter":"datum.panel==10"}],"layer":[{"mark":{"type":"text","fontSize":38,"align":"center","baseline":"alphabetic"},"encoding":{"x":{"datum":0.5,"scale":{"domain":[0,1]},"axis":null},"y":{"datum":0.91486,"scale":{"domain":[0,1]},"axis":null},"text":{"field":"title"}}},{"mark":{"type":"rect","fill":"white","stroke":"black","strokeWidth":1.3},"encoding":{"x":{"datum":0.75657,"axis":null},"x2":{"datum":0.94137},"y":{"datum":0.75314,"axis":null},"y2":{"datum":0.9}}},{"mark":{"type":"rule","color":"black","strokeWidth":1.3},"encoding":{"x":{"datum":0.75657,"axis":null},"x2":{"datum":0.94137},"y":{"datum":0.86457,"axis":null}}},{"mark":{"type":"text","fontSize":27,"align":"center","baseline":"alphabetic"},"encoding":{"x":{"datum":0.84897,"axis":null},"y":{"datum":0.87086,"axis":null},"text":{"field":"hist"}}},{"mark":{"type":"text","fontSize":19.5,"align":"left","baseline":"alphabetic","lineHeight":32.3},"encoding":{"x":{"datum":0.76651,"axis":null},"y":{"datum":0.83691,"axis":null},"text":{"value":["Entries","Mean","Std Dev"]}}},{"mark":{"type":"text","fontSize":19.5,"align":"right","baseline":"alphabetic"},"encoding":{"x":{"datum":0.93143,"axis":null},"y":{"datum":0.83691,"axis":null},"text":{"field":"entries"}}},{"mark":{"type":"text","fontSize":19.5,"align":"right","baseline":"alphabetic"},"encoding":{"x":{"datum":0.93143,"axis":null},"y":{"datum":0.8,"axis":null},"text":{"field":"mean"}}},{"mark":{"type":"text","fontSize":19.5,"align":"right","baseline":"alphabetic"},"encoding":{"x":{"datum":0.93143,"axis":null},"y":{"datum":0.76309,"axis":null},"text":{"field":"std"}}}]}
]},
{"width":875,"height":875,"resolve":{"scale":{"x":"independent","y":"independent"}},"layer":[
{"data":{"name":"hist"},"transform":[{"filter":"datum.panel==11"}],"mark":{"type":"line","interpolate":"step-after","color":"#000099","strokeWidth":1.5},"encoding":{"x":{"field":"x","type":"quantitative","scale":{"domain":[0,0.98],"range":[35.2,823.7],"nice":false,"zero":false},"axis":{"orient":"bottom","offset":-36.3,"tickCount":49,"labels":false,"title":null,"tickSize":{"condition":{"test":"abs(datum.value*10-round(datum.value*10))<1e-6","value":-24},"value":-12}}},"y":{"field":"count","type":"quantitative","scale":{"domain":[0,1],"range":[838.7,35.2],"nice":false,"zero":false},"axis":{"orient":"left","offset":-35.2,"tickCount":50,"labels":false,"title":null,"tickSize":{"condition":{"test":"abs(datum.value*10-round(datum.value*10))<1e-6","value":-23.4},"value":-11.7}}}}},
{"data":{"name":"pads"},"transform":[{"filter":"datum.panel==11"}],"layer":[{"mark":{"type":"text","fontSize":38,"align":"center","baseline":"alphabetic"},"encoding":{"x":{"datum":0.5,"scale":{"domain":[0,1]},"axis":null},"y":{"datum":0.91486,"scale":{"domain":[0,1]},"axis":null},"text":{"field":"title"}}},{"mark":{"type":"rect","fill":"white","stroke":"black","strokeWidth":1.3},"encoding":{"x":{"datum":0.75657,"axis":null},"x2":{"datum":0.94137},"y":{"datum":0.75314,"axis":null},"y2":{"datum":0.9}}},{"mark":{"type":"rule","color":"black","strokeWidth":1.3},"encoding":{"x":{"datum":0.75657,"axis":null},"x2":{"datum":0.94137},"y":{"datum":0.86457,"axis":null}}},{"mark":{"type":"text","fontSize":27,"align":"center","baseline":"alphabetic"},"encoding":{"x":{"datum":0.84897,"axis":null},"y":{"datum":0.87086,"axis":null},"text":{"field":"hist"}}},{"mark":{"type":"text","fontSize":19.5,"align":"left","baseline":"alphabetic","lineHeight":32.3},"encoding":{"x":{"datum":0.76651,"axis":null},"y":{"datum":0.83691,"axis":null},"text":{"value":["Entries","Mean","Std Dev"]}}},{"mark":{"type":"text","fontSize":19.5,"align":"right","baseline":"alphabetic"},"encoding":{"x":{"datum":0.93143,"axis":null},"y":{"datum":0.83691,"axis":null},"text":{"field":"entries"}}},{"mark":{"type":"text","fontSize":19.5,"align":"right","baseline":"alphabetic"},"encoding":{"x":{"datum":0.93143,"axis":null},"y":{"datum":0.8,"axis":null},"text":{"field":"mean"}}},{"mark":{"type":"text","fontSize":19.5,"align":"right","baseline":"alphabetic"},"encoding":{"x":{"datum":0.93143,"axis":null},"y":{"datum":0.76309,"axis":null},"text":{"field":"std"}}}]}
]},
{"width":875,"height":875,"resolve":{"scale":{"x":"independent","y":"independent"}},"layer":[
{"data":{"name":"hist"},"transform":[{"filter":"datum.panel==12"}],"mark":{"type":"line","interpolate":"step-after","color":"#000099","strokeWidth":1.5},"encoding":{"x":{"field":"x","type":"quantitative","scale":{"domain":[0,0.98],"range":[35.2,823.7],"nice":false,"zero":false},"axis":{"orient":"bottom","offset":-36.3,"tickCount":49,"labels":false,"title":null,"tickSize":{"condition":{"test":"abs(datum.value*10-round(datum.value*10))<1e-6","value":-24},"value":-12}}},"y":{"field":"count","type":"quantitative","scale":{"domain":[0,1],"range":[838.7,35.2],"nice":false,"zero":false},"axis":{"orient":"left","offset":-35.2,"tickCount":50,"labels":false,"title":null,"tickSize":{"condition":{"test":"abs(datum.value*10-round(datum.value*10))<1e-6","value":-23.4},"value":-11.7}}}}},
{"data":{"name":"pads"},"transform":[{"filter":"datum.panel==12"}],"layer":[{"mark":{"type":"text","fontSize":38,"align":"center","baseline":"alphabetic"},"encoding":{"x":{"datum":0.5,"scale":{"domain":[0,1]},"axis":null},"y":{"datum":0.91486,"scale":{"domain":[0,1]},"axis":null},"text":{"field":"title"}}},{"mark":{"type":"rect","fill":"white","stroke":"black","strokeWidth":1.3},"encoding":{"x":{"datum":0.75657,"axis":null},"x2":{"datum":0.94137},"y":{"datum":0.75314,"axis":null},"y2":{"datum":0.9}}},{"mark":{"type":"rule","color":"black","strokeWidth":1.3},"encoding":{"x":{"datum":0.75657,"axis":null},"x2":{"datum":0.94137},"y":{"datum":0.86457,"axis":null}}},{"mark":{"type":"text","fontSize":27,"align":"center","baseline":"alphabetic"},"encoding":{"x":{"datum":0.84897,"axis":null},"y":{"datum":0.87086,"axis":null},"text":{"field":"hist"}}},{"mark":{"type":"text","fontSize":19.5,"align":"left","baseline":"alphabetic","lineHeight":32.3},"encoding":{"x":{"datum":0.76651,"axis":null},"y":{"datum":0.83691,"axis":null},"text":{"value":["Entries","Mean","Std Dev"]}}},{"mark":{"type":"text","fontSize":19.5,"align":"right","baseline":"alphabetic"},"encoding":{"x":{"datum":0.93143,"axis":null},"y":{"datum":0.83691,"axis":null},"text":{"field":"entries"}}},{"mark":{"type":"text","fontSize":19.5,"align":"right","baseline":"alphabetic"},"encoding":{"x":{"datum":0.93143,"axis":null},"y":{"datum":0.8,"axis":null},"text":{"field":"mean"}}},{"mark":{"type":"text","fontSize":19.5,"align":"right","baseline":"alphabetic"},"encoding":{"x":{"datum":0.93143,"axis":null},"y":{"datum":0.76309,"axis":null},"text":{"field":"std"}}}]}
]},
{"width":875,"height":875,"resolve":{"scale":{"x":"independent","y":"independent"}},"layer":[
{"resolve":{"axis":{"x":"independent","y":"independent"}},"layer":[
{"data":{"name":"bins"},"transform":[{"filter":"datum.panel==13"}],"mark":{"type":"rect","filled":false,"color":"#000099","strokeWidth":1.5},"encoding":{"x":{"field":"x0","type":"quantitative","scale":{"domain":[0,198],"range":[115.7,759.3],"nice":false,"zero":false},"axis":{"orient":"bottom","offset":-115.7,"tickCount":39,"tickSize":{"condition":{"test":"datum.value%20==0","value":-19},"value":-9.7},"labelExpr":"datum.value%20==0 ? ''+datum.value : ''","labelFontSize":22,"labelBaseline":"top","labelAlign":"center","labelPadding":28,"title":"Delta T (s)","titleFontSize":25.5,"titleAlign":"right","titleBaseline":"alphabetic","titleX":759.3,"titleY":51}},"x2":{"field":"x1"},"y":{"field":"count","type":"quantitative","scale":{"domain":[0,1.5755],"range":[759.3,115.7],"nice":false,"zero":false},"axis":{"orient":"left","offset":-115.7,"tickCount":31,"tickSize":{"condition":{"test":"abs(datum.value*5-round(datum.value*5))<1e-6","value":-18.5},"value":-9.3},"labelExpr":"abs(datum.value*5-round(datum.value*5))<1e-6 ? ''+round(datum.value*10)/10 : ''","labelFontSize":22,"labelAlign":"right","labelBaseline":"middle","labelPadding":23.5,"title":"# of Events","titleFontSize":25.5,"titleAngle":270,"titleAlign":"right","titleBaseline":"alphabetic","titleX":-50,"titleY":115.7}},"y2":{"datum":0}}},
{"data":{"name":"fit"},"transform":[{"filter":"datum.panel==13"}],"mark":{"type":"line","color":"#ff0000","strokeWidth":2.8},"encoding":{"x":{"field":"x","type":"quantitative","axis":{"orient":"top","offset":-115.7,"ticks":false,"labels":false,"title":null}},"y":{"field":"y","type":"quantitative","axis":{"orient":"right","offset":-115.7,"ticks":false,"labels":false,"title":null}}}}
]},
{"data":{"name":"pads"},"transform":[{"filter":"datum.panel==13"}],"layer":[{"mark":{"type":"text","fontSize":38,"align":"center","baseline":"alphabetic"},"encoding":{"x":{"datum":0.5,"scale":{"domain":[0,1]},"axis":null},"y":{"datum":0.91486,"scale":{"domain":[0,1]},"axis":null},"text":{"field":"title"}}},{"mark":{"type":"rect","fill":"white","stroke":"black","strokeWidth":1.3},"encoding":{"x":{"datum":0.75657,"axis":null},"x2":{"datum":0.94137},"y":{"datum":0.75314,"axis":null},"y2":{"datum":0.9}}},{"mark":{"type":"rule","color":"black","strokeWidth":1.3},"encoding":{"x":{"datum":0.75657,"axis":null},"x2":{"datum":0.94137},"y":{"datum":0.86457,"axis":null}}},{"mark":{"type":"text","fontSize":27,"align":"center","baseline":"alphabetic"},"encoding":{"x":{"datum":0.84897,"axis":null},"y":{"datum":0.87086,"axis":null},"text":{"field":"hist"}}},{"mark":{"type":"text","fontSize":19.5,"align":"left","baseline":"alphabetic","lineHeight":32.3},"encoding":{"x":{"datum":0.76651,"axis":null},"y":{"datum":0.83691,"axis":null},"text":{"value":["Entries","Mean","Std Dev"]}}},{"mark":{"type":"text","fontSize":19.5,"align":"right","baseline":"alphabetic"},"encoding":{"x":{"datum":0.93143,"axis":null},"y":{"datum":0.83691,"axis":null},"text":{"field":"entries"}}},{"mark":{"type":"text","fontSize":19.5,"align":"right","baseline":"alphabetic"},"encoding":{"x":{"datum":0.93143,"axis":null},"y":{"datum":0.8,"axis":null},"text":{"field":"mean"}}},{"mark":{"type":"text","fontSize":19.5,"align":"right","baseline":"alphabetic"},"encoding":{"x":{"datum":0.93143,"axis":null},"y":{"datum":0.76309,"axis":null},"text":{"field":"std"}}}]}
]},
{"width":875,"height":875,"resolve":{"scale":{"x":"independent","y":"independent"}},"layer":[
{"data":{"name":"hist"},"transform":[{"filter":"datum.panel==14"}],"mark":{"type":"line","interpolate":"step-after","color":"#000099","strokeWidth":1.5},"encoding":{"x":{"field":"x","type":"quantitative","scale":{"domain":[0,0.98],"range":[35.2,823.7],"nice":false,"zero":false},"axis":{"orient":"bottom","offset":-36.3,"tickCount":49,"labels":false,"title":null,"tickSize":{"condition":{"test":"abs(datum.value*10-round(datum.value*10))<1e-6","value":-24},"value":-12}}},"y":{"field":"count","type":"quantitative","scale":{"domain":[0,1],"range":[838.7,35.2],"nice":false,"zero":false},"axis":{"orient":"left","offset":-35.2,"tickCount":50,"labels":false,"title":null,"tickSize":{"condition":{"test":"abs(datum.value*10-round(datum.value*10))<1e-6","value":-23.4},"value":-11.7}}}}},
{"data":{"name":"pads"},"transform":[{"filter":"datum.panel==14"}],"layer":[{"mark":{"type":"text","fontSize":38,"align":"center","baseline":"alphabetic"},"encoding":{"x":{"datum":0.5,"scale":{"domain":[0,1]},"axis":null},"y":{"datum":0.91486,"scale":{"domain":[0,1]},"axis":null},"text":{"field":"title"}}},{"mark":{"type":"rect","fill":"white","stroke":"black","strokeWidth":1.3},"encoding":{"x":{"datum":0.75657,"axis":null},"x2":{"datum":0.94137},"y":{"datum":0.75314,"axis":null},"y2":{"datum":0.9}}},{"mark":{"type":"rule","color":"black","strokeWidth":1.3},"encoding":{"x":{"datum":0.75657,"axis":null},"x2":{"datum":0.94137},"y":{"datum":0.86457,"axis":null}}},{"mark":{"type":"text","fontSize":27,"align":"center","baseline":"alphabetic"},"encoding":{"x":{"datum":0.84897,"axis":null},"y":{"datum":0.87086,"axis":null},"text":{"field":"hist"}}},{"mark":{"type":"text","fontSize":19.5,"align":"left","baseline":"alphabetic","lineHeight":32.3},"encoding":{"x":{"datum":0.76651,"axis":null},"y":{"datum":0.83691,"axis":null},"text":{"value":["Entries","Mean","Std Dev"]}}},{"mark":{"type":"text","fontSize":19.5,"align":"right","baseline":"alphabetic"},"encoding":{"x":{"datum":0.93143,"axis":null},"y":{"datum":0.83691,"axis":null},"text":{"field":"entries"}}},{"mark":{"type":"text","fontSize":19.5,"align":"right","baseline":"alphabetic"},"encoding":{"x":{"datum":0.93143,"axis":null},"y":{"datum":0.8,"axis":null},"text":{"field":"mean"}}},{"mark":{"type":"text","fontSize":19.5,"align":"right","baseline":"alphabetic"},"encoding":{"x":{"datum":0.93143,"axis":null},"y":{"datum":0.76309,"axis":null},"text":{"field":"std"}}}]}
]},
{"width":875,"height":875,"resolve":{"scale":{"x":"independent","y":"independent"}},"layer":[
{"data":{"name":"hist"},"transform":[{"filter":"datum.panel==15"}],"mark":{"type":"line","interpolate":"step-after","color":"#000099","strokeWidth":1.5},"encoding":{"x":{"field":"x","type":"quantitative","scale":{"domain":[0,0.98],"range":[35.2,823.7],"nice":false,"zero":false},"axis":{"orient":"bottom","offset":-36.3,"tickCount":49,"labels":false,"title":null,"tickSize":{"condition":{"test":"abs(datum.value*10-round(datum.value*10))<1e-6","value":-24},"value":-12}}},"y":{"field":"count","type":"quantitative","scale":{"domain":[0,1],"range":[838.7,35.2],"nice":false,"zero":false},"axis":{"orient":"left","offset":-35.2,"tickCount":50,"labels":false,"title":null,"tickSize":{"condition":{"test":"abs(datum.value*10-round(datum.value*10))<1e-6","value":-23.4},"value":-11.7}}}}},
{"data":{"name":"pads"},"transform":[{"filter":"datum.panel==15"}],"layer":[{"mark":{"type":"text","fontSize":38,"align":"center","baseline":"alphabetic"},"encoding":{"x":{"datum":0.5,"scale":{"domain":[0,1]},"axis":null},"y":{"datum":0.91486,"scale":{"domain":[0,1]},"axis":null},"text":{"field":"title"}}},{"mark":{"type":"rect","fill":"white","stroke":"black","strokeWidth":1.3},"encoding":{"x":{"datum":0.75657,"axis":null},"x2":{"datum":0.94137},"y":{"datum":0.75314,"axis":null},"y2":{"datum":0.9}}},{"mark":{"type":"rule","color":"black","strokeWidth":1.3},"encoding":{"x":{"datum":0.75657,"axis":null},"x2":{"datum":0.94137},"y":{"datum":0.86457,"axis":null}}},{"mark":{"type":"text","fontSize":27,"align":"center","baseline":"alphabetic"},"encoding":{"x":{"datum":0.84897,"axis":null},"y":{"datum":0.87086,"axis":null},"text":{"field":"hist"}}},{"mark":{"type":"text","fontSize":19.5,"align":"left","baseline":"alphabetic","lineHeight":32.3},"encoding":{"x":{"datum":0.76651,"axis":null},"y":{"datum":0.83691,"axis":null},"text":{"value":["Entries","Mean","Std Dev"]}}},{"mark":{"type":"text","fontSize":19.5,"align":"right","baseline":"alphabetic"},"encoding":{"x":{"datum":0.93143,"axis":null},"y":{"datum":0.83691,"axis":null},"text":{"field":"entries"}}},{"mark":{"type":"text","fontSize":19.5,"align":"right","baseline":"alphabetic"},"encoding":{"x":{"datum":0.93143,"axis":null},"y":{"datum":0.8,"axis":null},"text":{"field":"mean"}}},{"mark":{"type":"text","fontSize":19.5,"align":"right","baseline":"alphabetic"},"encoding":{"x":{"datum":0.93143,"axis":null},"y":{"datum":0.76309,"axis":null},"text":{"field":"std"}}}]}
]},
{"width":875,"height":875,"resolve":{"scale":{"x":"independent","y":"independent"}},"layer":[
{"data":{"name":"hist"},"transform":[{"filter":"datum.panel==16"}],"mark":{"type":"line","interpolate":"step-after","color":"#000099","strokeWidth":1.5},"encoding":{"x":{"field":"x","type":"quantitative","scale":{"domain":[0,0.98],"range":[35.2,823.7],"nice":false,"zero":false},"axis":{"orient":"bottom","offset":-36.3,"tickCount":49,"labels":false,"title":null,"tickSize":{"condition":{"test":"abs(datum.value*10-round(datum.value*10))<1e-6","value":-24},"value":-12}}},"y":{"field":"count","type":"quantitative","scale":{"domain":[0,1],"range":[838.7,35.2],"nice":false,"zero":false},"axis":{"orient":"left","offset":-35.2,"tickCount":50,"labels":false,"title":null,"tickSize":{"condition":{"test":"abs(datum.value*10-round(datum.value*10))<1e-6","value":-23.4},"value":-11.7}}}}},
{"data":{"name":"pads"},"transform":[{"filter":"datum.panel==16"}],"layer":[{"mark":{"type":"text","fontSize":38,"align":"center","baseline":"alphabetic"},"encoding":{"x":{"datum":0.5,"scale":{"domain":[0,1]},"axis":null},"y":{"datum":0.91486,"scale":{"domain":[0,1]},"axis":null},"text":{"field":"title"}}},{"mark":{"type":"rect","fill":"white","stroke":"black","strokeWidth":1.3},"encoding":{"x":{"datum":0.75657,"axis":null},"x2":{"datum":0.94137},"y":{"datum":0.75314,"axis":null},"y2":{"datum":0.9}}},{"mark":{"type":"rule","color":"black","strokeWidth":1.3},"encoding":{"x":{"datum":0.75657,"axis":null},"x2":{"datum":0.94137},"y":{"datum":0.86457,"axis":null}}},{"mark":{"type":"text","fontSize":27,"align":"center","baseline":"alphabetic"},"encoding":{"x":{"datum":0.84897,"axis":null},"y":{"datum":0.87086,"axis":null},"text":{"field":"hist"}}},{"mark":{"type":"text","fontSize":19.5,"align":"left","baseline":"alphabetic","lineHeight":32.3},"encoding":{"x":{"datum":0.76651,"axis":null},"y":{"datum":0.83691,"axis":null},"text":{"value":["Entries","Mean","Std Dev"]}}},{"mark":{"type":"text","fontSize":19.5,"align":"right","baseline":"alphabetic"},"encoding":{"x":{"datum":0.93143,"axis":null},"y":{"datum":0.83691,"axis":null},"text":{"field":"entries"}}},{"mark":{"type":"text","fontSize":19.5,"align":"right","baseline":"alphabetic"},"encoding":{"x":{"datum":0.93143,"axis":null},"y":{"datum":0.8,"axis":null},"text":{"field":"mean"}}},{"mark":{"type":"text","fontSize":19.5,"align":"right","baseline":"alphabetic"},"encoding":{"x":{"datum":0.93143,"axis":null},"y":{"datum":0.76309,"axis":null},"text":{"field":"std"}}}]}
]}
]
}
